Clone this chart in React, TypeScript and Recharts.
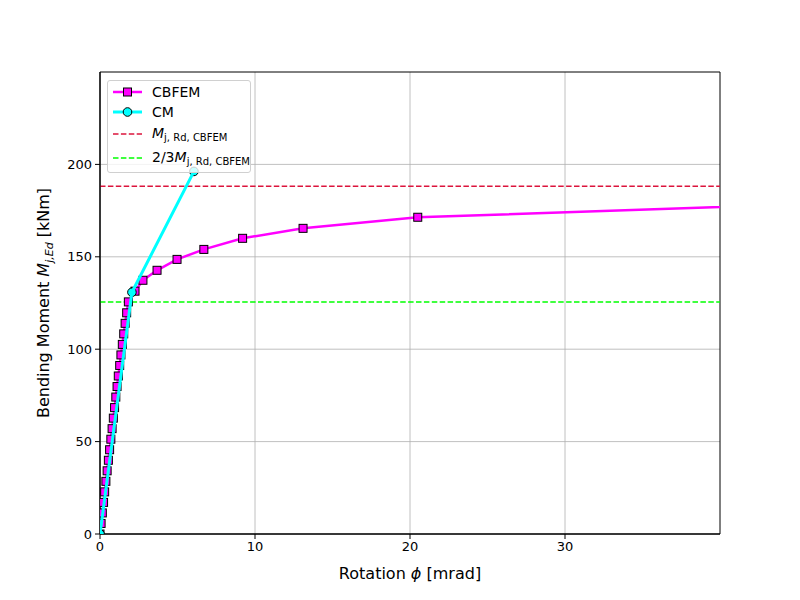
import { CartesianGrid, Legend, Line, LineChart, ReferenceArea, ReferenceLine, XAxis, YAxis } from 'recharts';

const cbfemRot = [
  0, 0.07, 0.15, 0.23, 0.3, 0.38, 0.46, 0.54, 0.62, 0.7, 0.78, 0.86, 0.94, 1.02, 1.1, 1.18, 1.27, 1.35,
  1.44, 1.53, 1.62, 1.72, 1.83, 2.26, 2.77, 3.68, 4.97, 6.7, 9.2, 13.1, 20.5, 48,
];
const cbfemM = [
  0, 5.7, 11.4, 17.1, 22.8, 28.5, 34.2, 39.9, 45.6, 51.3, 57, 62.7, 68.4, 74.1, 79.8, 85.5, 91.2, 96.9,
  102.6, 108.3, 114, 119.7, 125.6, 131.4, 137.3, 142.7, 148.6, 154, 160, 165.4, 171.4, 179.2,
];
const cmRot = [0, 2.06, 6.06];
const cmM = [0, 130.8, 196.2];
const mRd = 188.2;
const mRd23 = 125.5;
const xTicks = [0, 10, 20, 30];
const yTicks = [0, 50, 100, 150, 200];

const cbfem = cbfemRot.map((x, i) => ({ x, m: cbfemM[i] }));
const cm = cmRot.map((x, i) => ({ x, m: cmM[i] }));

const FONT = '"DejaVu Sans", sans-serif';

const Square = (p: any) => {
  if (p.cx == null || p.cy == null) return null;
  return <rect key={`sq-${p.index}`} x={p.cx - 4} y={p.cy - 4} width={8} height={8} fill="#ff00ff" stroke="#000" strokeWidth={1} />;
};

const Circle = (p: any) => {
  if (p.cx == null || p.cy == null) return null;
  return <circle key={`ci-${p.index}`} cx={p.cx} cy={p.cy} r={4.3} fill="#00ffff" stroke="#000" strokeWidth={1} />;
};

const LegendBox = () => {
  const row = (h: number, sample: React.ReactNode, label: React.ReactNode) => (
    <div style={{ height: h, display: 'flex', alignItems: 'center' }}>
      <svg width={40} height={h} style={{ flex: 'none' }}>
        {sample}
      </svg>
      <span style={{ marginLeft: 0, whiteSpace: 'nowrap' }}>{label}</span>
    </div>
  );
  const sub = { fontSize: 10, verticalAlign: '-3px' } as const;
  return (
    <div
      style={{
        background: 'rgba(255,255,255,0.8)',
        border: '1px solid #d0d0d0',
        borderRadius: 3,
        padding: '1px 6px 2px 4px',
        fontFamily: FONT,
        fontSize: 14,
        color: '#000',
        width: 132,
      }}
    >
      {row(20, <g>
        <line x1={1} x2={30} y1={10} y2={10} stroke="#ff00ff" strokeWidth={2.5} />
        <rect x={11.5} y={6} width={8} height={8} fill="#ff00ff" stroke="#000" />
      </g>, 'CBFEM')}
      {row(20, <g>
        <line x1={1} x2={30} y1={10} y2={10} stroke="#00ffff" strokeWidth={3} />
        <circle cx={15.5} cy={10} r={4.3} fill="#00ffff" stroke="#000" />
      </g>, 'CM')}
      {row(24, <line x1={1} x2={30} y1={12} y2={12} stroke="crimson" strokeWidth={1.5} strokeDasharray="5.5 2.4" />,
        <span><i>M</i><span style={sub}>j, Rd, CBFEM</span></span>)}
      {row(24, <line x1={1} x2={30} y1={12} y2={12} stroke="lime" strokeWidth={1.5} strokeDasharray="5.5 2.4" />,
        <span>2/3<i>M</i><span style={sub}>j, Rd, CBFEM</span></span>)}
    </div>
  );
};

export default function App() {
  return (
    <div style={{ position: 'absolute', left: 0, top: 0, width: 800, height: 600, background: '#fff' }}>
      <LineChart width={800} height={600} margin={{ top: 72, right: 80, bottom: 16, left: 20 }}>
        <CartesianGrid stroke="#b0b0b0" strokeWidth={0.8} verticalValues={xTicks} horizontalValues={yTicks} />
        <XAxis
          type="number"
          dataKey="x"
          domain={[0, 40]}
          ticks={xTicks}
          allowDataOverflow
          height={50}
          tickSize={5}
          tickMargin={3}
          axisLine={{ stroke: '#000' }}
          tickLine={{ stroke: '#000' }}
          tick={{ fill: '#000', fontSize: 13, fontFamily: FONT }}
          label={{
            content: (p: any) => (
              <text x={p.viewBox.x + p.viewBox.width / 2} y={p.viewBox.y + 45} textAnchor="middle" fontSize={16} fontFamily={FONT} fill="#000">
                Rotation <tspan fontStyle="italic">ϕ</tspan> [mrad]
              </text>
            ),
          }}
        />
        <YAxis
          type="number"
          dataKey="m"
          domain={[0, 250]}
          ticks={yTicks}
          allowDataOverflow
          width={80}
          tickSize={5}
          tickMargin={3}
          axisLine={{ stroke: '#000' }}
          tickLine={{ stroke: '#000' }}
          tick={{ fill: '#000', fontSize: 13, fontFamily: FONT }}
          label={{
            content: (p: any) => {
              const cy = p.viewBox.y + p.viewBox.height / 2;
              return (
                <text transform={`translate(49, ${cy}) rotate(-90)`} textAnchor="middle" fontSize={16} fontFamily={FONT} fill="#000">
                  Bending Moment <tspan fontStyle="italic">M</tspan>
                  <tspan fontStyle="italic" fontSize={11} dy={4}>j,Ed</tspan>
                  <tspan dy={-4}> [kNm]</tspan>
                </text>
              );
            },
          }}
        />
        <Line
          data={cbfem}
          dataKey="m"
          type="linear"
          stroke="#ff00ff"
          strokeWidth={2.5}
          dot={Square}
          activeDot={false}
          isAnimationActive={false}
        />
        <Line
          data={cm}
          dataKey="m"
          type="linear"
          stroke="#00ffff"
          strokeWidth={3}
          dot={Circle}
          activeDot={false}
          zIndex={700}
          isAnimationActive={false}
        />
        <ReferenceLine y={mRd} stroke="crimson" strokeWidth={1.5} strokeDasharray="5.5 2.4" />
        <ReferenceLine y={mRd23} stroke="lime" strokeWidth={1.5} strokeDasharray="5.5 2.4" />
        <ReferenceArea x1={0} x2={40} y1={0} y2={250} fill="none" stroke="#000" strokeWidth={1} />
        <Legend
          layout="vertical"
          align="center"
          verticalAlign="middle"
          content={<LegendBox />}
          wrapperStyle={{ position: 'absolute', left: 107, top: 80, width: 'auto', height: 'auto' }}
        />
      </LineChart>
    </div>
  );
}
